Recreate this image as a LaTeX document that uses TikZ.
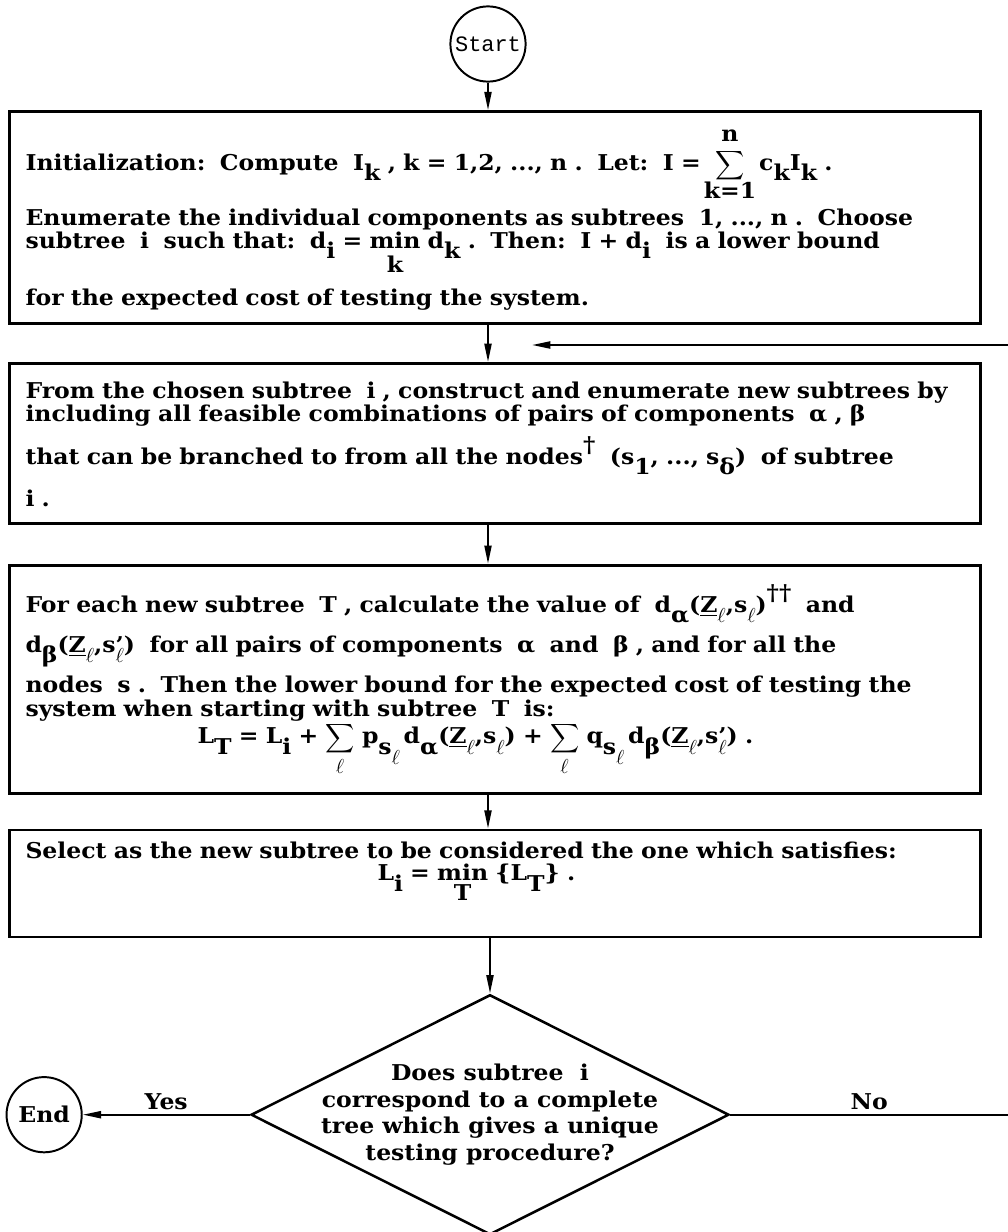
\documentclass[tikz,border=0pt]{standalone}
\usepackage{amsmath}
\usepackage{fontspec}
\setmainfont{DejaVu Serif}[FakeStretch=1.08]
\setmonofont{Liberation Mono}
\usetikzlibrary{arrows.meta,positioning,shapes.geometric}

% typewriter-style half-line shifts and stacked limits
\newcommand{\dn}[1]{\raisebox{-0.26cm}[0pt][0pt]{#1}}
\newcommand{\up}[1]{\raisebox{0.3cm}[0pt][0pt]{#1}}
\newcommand{\el}{$\ell$}
\newcommand{\under}[3]{\ooalign{#1\cr\hidewidth\raisebox{-#3}[0pt][0pt]{#2}\hidewidth\cr}}
\newcommand{\sumover}[3]{\ooalign{\smash{$\displaystyle\sum$}\cr\hidewidth\raisebox{-#3}[0pt][0pt]{#1}\hidewidth\cr\hidewidth\raisebox{0.72cm}[0pt][0pt]{#2}\hidewidth\cr}}

\begin{document}
\begin{tikzpicture}[
    every node/.style={font=\fontsize{15.5}{16.3}\selectfont\bfseries},
    stepbox/.style={
      rectangle, draw, line width=2pt, text width=23.475cm,
      inner xsep=0.4cm, inner ysep=0pt, align=left
    },
    term/.style={
      circle, draw, line width=1.4pt, minimum size=1.88cm, inner sep=0pt
    },
    decide/.style={
      diamond, draw, line width=1.8pt, minimum width=11.95cm, minimum height=6cm,
      aspect=2, align=center, inner xsep=-1.5cm, inner ysep=-0.6cm,
      font=\fontsize{15.5}{18.8}\selectfont\bfseries
    },
    arr/.style={-{Triangle[length=13pt,width=5pt]}, line width=1.4pt}
  ]
    \useasboundingbox (0,0) rectangle (25.2,-30.8);
    \clip (0,0) rectangle (25.2,-30.8);

    % Start
    \node[term, font=\fontsize{15.6}{18}\selectfont\ttfamily\mdseries] (start) at (12.2,-1.1) {Start};

    % Initialization
    \node[stepbox, text height=1.475cm, text depth=3.825cm, below=0.69cm of start, xshift=0.175cm] (init) {%
      Initialization:\ \ Compute\ \ I\dn{k}\ , k = 1,2, ..., n .\ \ Let:\ \ I =\ \ \sumover{k=1}{n}{0.7cm}\ \ c\dn{k}I\dn{k}\ .\\[0.8cm]
      Enumerate the individual components as subtrees\ \ 1, ..., n .\ \ Choose\\
      subtree\ \ i\ \ such that:\ \ d\dn{i} = \under{min}{k}{0.6cm}\ d\dn{k}\ .\ \ Then:\ \ I + d\dn{i}\ \ is a lower bound\\[0.85cm]
      for the expected cost of testing the system.};

    % Construct new subtrees
    \node[stepbox, text height=0.875cm, text depth=3.125cm, below=0.925cm of init] (build) {%
      From the chosen subtree\ \ i , construct and enumerate new subtrees by\\
      including all feasible combinations of pairs of components\ \ α , β\\[0.5cm]
      that can be branched to from all the nodes\up{†}\ \ (s\dn{1}, ..., s\dn{δ})\ \ of subtree\\[0.475cm]
      i .};

    % Lower bounds
    \node[stepbox, text height=1.175cm, text depth=4.525cm, below=0.975cm of build] (bound) {%
      For each new subtree\ \ T , calculate the value of\ \ d\dn{α}(\underline{Z}\dn{\el},s\dn{\el})\up{††}\ \ and\\[0.425cm]
      d\dn{β}(\underline{Z}\dn{\el},s\rlap{'}\dn{\el})\ \ for all pairs of components\ \ α\ \ and\ \ β , and for all the\\[0.425cm]
      nodes\ \ s .\ \ Then the lower bound for the expected cost of testing the\\[0.05cm]
      system when starting with subtree\ \ T\ \ is:\\[0.1cm]
      \hspace*{4.3cm}L\dn{T} = L\dn{i} + \sumover{\el}{}{0.75cm}\ p\dn{s\dn{\el}}\,d\dn{α}(\underline{Z}\dn{\el},s\dn{\el}) + \sumover{\el}{}{0.75cm}\ q\dn{s\dn{\el}}\,d\dn{β}(\underline{Z}\dn{\el},s\rlap{'}\dn{\el})\ .};

    % Selection
    \node[stepbox, text height=0.7cm, text depth=1.975cm, below=0.85cm of bound] (select) {%
      Select as the new subtree to be considered the one which satisfies:\\
      \hspace*{8.8cm}L\dn{i} = \under{min}{T}{0.5cm}\ \{L\dn{T}\}\ .};

    % Decision
    \node[decide, below=1.375cm of select, xshift=-0.125cm] (check) {%
      Does subtree\ \ i\\ correspond to a complete\\ tree which gives a unique\\ testing procedure?};
    \node[term, left=4.175cm of check] (stop) {End};

    \coordinate (rim) at (25.2,0);
    \coordinate (back) at (13.3,-8.625);

    \draw[arr] (start) -- (start |- init.north);
    \draw[arr] (init.south -| start) -- (build.north -| start);
    \draw[arr] (build.south -| start) -- (bound.north -| start);
    \draw[arr] (bound.south -| start) -- (select.north -| start);
    \draw[arr] (select.south -| check) -- (check.north);
    \draw[arr] (check.west) -- node[above, inner sep=3pt]{Yes} (stop);

    % No: back round to the top of the loop
    \draw[line width=1.4pt] (check.east) -- node[above, inner sep=3pt]{No} (check.east -| rim) -- ++(0.5,0) |- ([xshift=0.5cm]back -| rim);
    \draw[arr] (back -| rim) -- (back);
  \end{tikzpicture}
\end{document}
